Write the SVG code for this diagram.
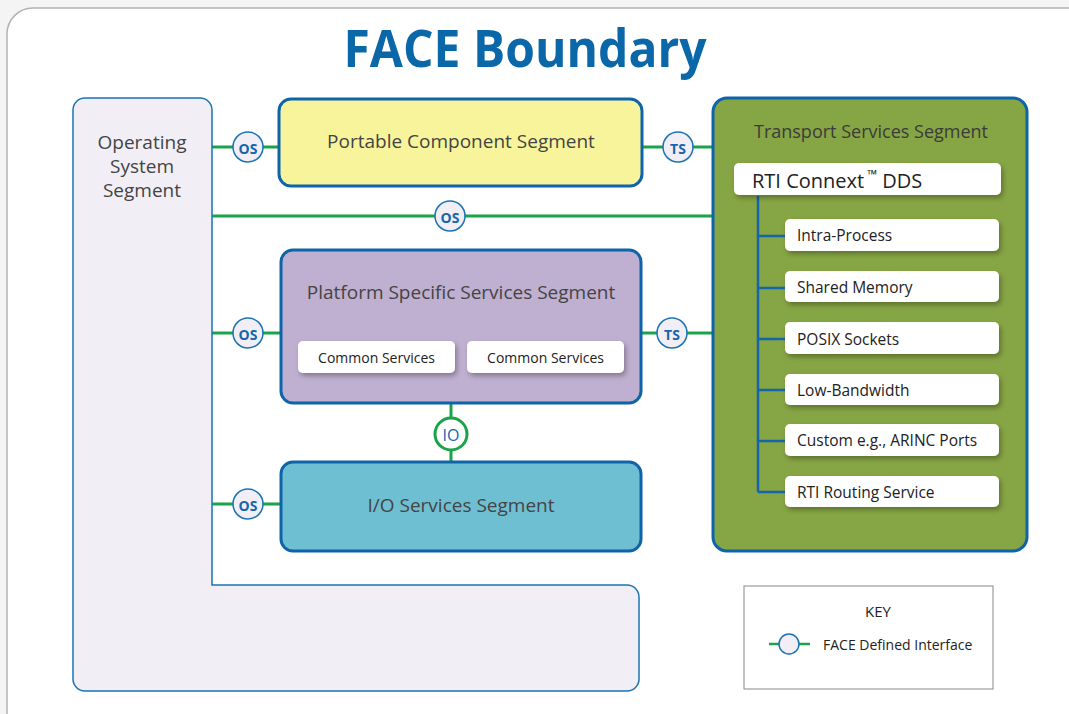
<svg xmlns="http://www.w3.org/2000/svg" width="1069" height="714" viewBox="0 0 1069 714">
<defs>
<filter id="sh" x="-10%" y="-30%" width="130%" height="180%">
<feDropShadow dx="2" dy="3" stdDeviation="2.5" flood-color="#000" flood-opacity="0.3"/>
</filter>
</defs>
<style>
.seg{stroke:#0e64a8;stroke-width:3}
.t{font-family:"Open Sans","Liberation Sans",sans-serif;fill:#444;text-anchor:middle;dominant-baseline:central}
.w{fill:#fff;filter:url(#sh)}
.wt{font-family:"Open Sans","Liberation Sans",sans-serif;fill:#222;dominant-baseline:central;font-size:15.5px}
.ct{font-family:"Open Sans","Liberation Sans",sans-serif;fill:#222;text-anchor:middle;dominant-baseline:central;font-size:14px}
.g{stroke:#1ba34a;stroke-width:3;fill:none}
.b{stroke:#1565ad;stroke-width:2.5;fill:none}
.ifc{fill:#f1eff5;stroke:#1a73b5;stroke-width:1.5}
.it{font-family:"Open Sans","Liberation Sans",sans-serif;font-weight:bold;font-size:14px;fill:#1565ad;text-anchor:middle;dominant-baseline:central}
</style>
<rect width="1069" height="714" fill="#f4f4f4"/>
<rect x="7" y="8" width="1090" height="740" rx="26" fill="#fff" stroke="#b3b3b3" stroke-width="1.5"/>
<text x="525" y="46" font-family="Open Sans, Liberation Sans, sans-serif" font-weight="bold" font-size="52" fill="#0a67a8" text-anchor="middle" dominant-baseline="central" textLength="363" lengthAdjust="spacingAndGlyphs">FACE Boundary</text>

<g id="connectors">
<line class="g" x1="212" y1="147" x2="280" y2="147"/>
<line class="g" x1="212" y1="216" x2="713" y2="216"/>
<line class="g" x1="212" y1="333" x2="281" y2="333"/>
<line class="g" x1="212" y1="504" x2="281" y2="504"/>
<line class="g" x1="642" y1="147" x2="713" y2="147"/>
<line class="g" x1="641" y1="333" x2="713" y2="333"/>
<line class="g" x1="451" y1="403" x2="451" y2="462"/>
</g>

<g id="os-segment">
<path d="M85,98 H200 a12,12 0 0 1 12,12 V585 H627 a12,12 0 0 1 12,12 V679 a12,12 0 0 1 -12,12 H85 a12,12 0 0 1 -12,-12 V110 a12,12 0 0 1 12,-12 Z" fill="#f1eff5" stroke="#1a73b5" stroke-width="1.5"/>
<text class="t" x="142" font-size="19"><tspan x="142" y="142">Operating</tspan><tspan x="142" y="166">System</tspan><tspan x="142" y="190">Segment</tspan></text>
</g>

<g id="portable-component">
<rect class="seg" x="279" y="99" width="363" height="87" rx="12" fill="#f7f49c"/>
<text class="t" x="461" y="141" font-size="19">Portable Component Segment</text>
</g>

<g id="platform-specific">
<rect class="seg" x="281" y="250" width="360" height="153" rx="12" fill="#bfafd0"/>
<text class="t" x="461" y="292" font-size="19">Platform Specific Services Segment</text>
<g id="common-1"><rect class="w" x="298" y="341" width="157" height="32" rx="5"/><text class="ct" x="376.5" y="357">Common Services</text></g>
<g id="common-2"><rect class="w" x="467" y="341" width="157" height="32" rx="5"/><text class="ct" x="545.5" y="357">Common Services</text></g>
</g>

<g id="io-services">
<rect class="seg" x="281" y="462" width="360" height="89" rx="12" fill="#6fbfd3"/>
<text class="t" x="461" y="505" font-size="19">I/O Services Segment</text>
</g>

<g id="transport-services">
<rect class="seg" x="713" y="98" width="314" height="453" rx="14" fill="#86a544"/>
<text class="t" x="871" y="131" font-size="18" style="fill:#3b3b3b">Transport Services Segment</text>
<path class="b" d="M758,196 V492 M758,236 H785 M758,288 H785 M758,339 H785 M758,390 H785 M758,441 H785 M758,492 H785"/>
<g id="rti-connext"><rect class="w" x="734" y="163" width="267" height="32" rx="5"/><text class="wt" x="752" y="180" style="font-size:20px">RTI Connext<tspan dx="3" dy="-6" style="font-size:13px">™</tspan><tspan dy="6"> DDS</tspan></text></g>
<g id="intra-process"><rect class="w" x="785" y="219" width="214" height="32" rx="5"/><text class="wt" x="797" y="235">Intra-Process</text></g>
<g id="shared-memory"><rect class="w" x="785" y="271" width="214" height="31" rx="5"/><text class="wt" x="797" y="287">Shared Memory</text></g>
<g id="posix-sockets"><rect class="w" x="785" y="322" width="214" height="32" rx="5"/><text class="wt" x="797" y="339">POSIX Sockets</text></g>
<g id="low-bandwidth"><rect class="w" x="785" y="374" width="214" height="31" rx="5"/><text class="wt" x="797" y="390">Low-Bandwidth</text></g>
<g id="custom"><rect class="w" x="785" y="424" width="214" height="32" rx="5"/><text class="wt" x="797" y="440">Custom e.g., ARINC Ports</text></g>
<g id="routing"><rect class="w" x="785" y="476" width="214" height="31" rx="5"/><text class="wt" x="797" y="492">RTI Routing Service</text></g>
</g>

<g id="if-os-1"><circle class="ifc" cx="248" cy="147" r="15"/><text class="it" x="248" y="148">OS</text></g>
<g id="if-os-2"><circle class="ifc" cx="450" cy="216" r="15"/><text class="it" x="450" y="217">OS</text></g>
<g id="if-os-3"><circle class="ifc" cx="248" cy="333" r="15"/><text class="it" x="248" y="334">OS</text></g>
<g id="if-os-4"><circle class="ifc" cx="248" cy="504" r="15"/><text class="it" x="248" y="505">OS</text></g>
<g id="if-ts-1"><circle class="ifc" cx="678" cy="147" r="15"/><text class="it" x="678" y="148">TS</text></g>
<g id="if-ts-2"><circle class="ifc" cx="672" cy="333" r="15"/><text class="it" x="672" y="334">TS</text></g>
<g id="if-io"><circle cx="451" cy="434" r="16" fill="#fff" stroke="#1ba34a" stroke-width="3"/><text class="it" x="451" y="435" style="font-weight:normal;font-size:16px">IO</text></g>

<g id="key">
<rect x="744" y="586" width="249" height="103" fill="#fff" stroke="#888" stroke-width="1"/>
<text class="ct" x="878" y="611" style="font-size:15px">KEY</text>
<line class="g" x1="769" y1="644" x2="810" y2="644" style="stroke-width:2.5"/>
<circle class="ifc" cx="789" cy="644" r="10"/>
<text class="wt" x="823" y="644" style="font-size:14px">FACE Defined Interface</text>
</g>
</svg>
